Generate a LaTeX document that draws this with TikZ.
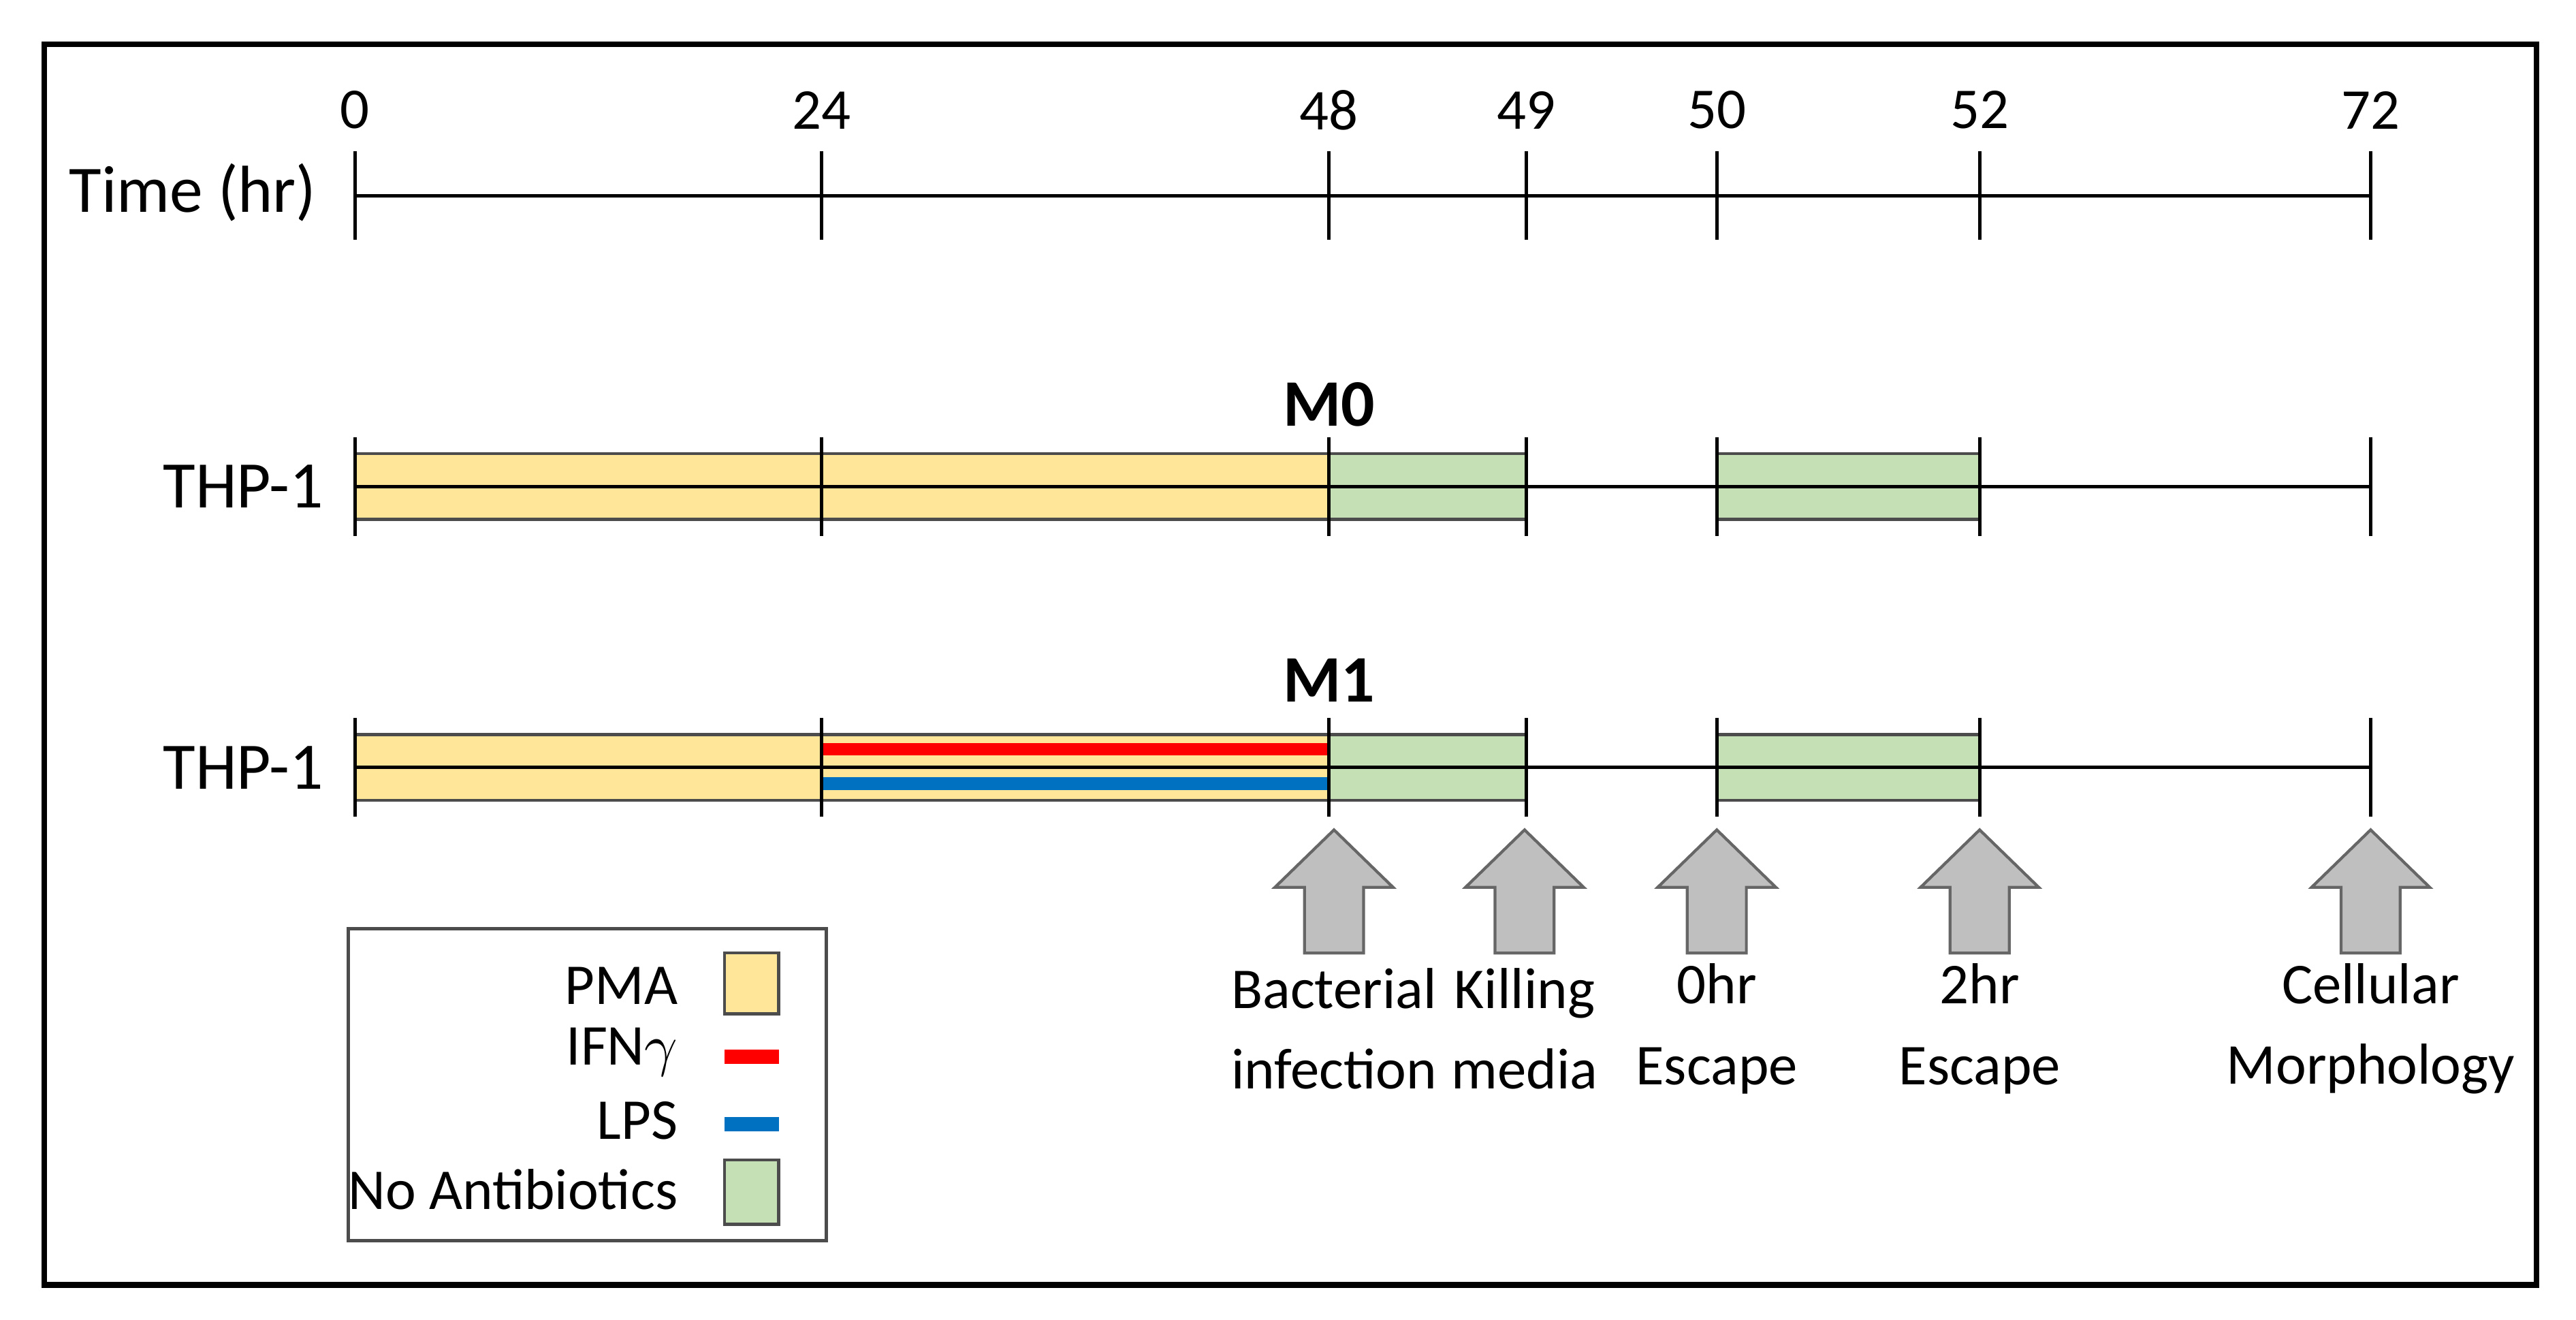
\documentclass[tikz,border=0pt]{standalone}
\usepackage{fontspec}
\setmainfont{Carlito}
\begin{document}
\begin{tikzpicture}[x=0.01cm,y=-0.01cm,
  lbl/.style={font=\fontsize{10}{12}\selectfont},
  big/.style={font=\fontsize{11.5}{13}\selectfont},
  tick/.style={line width=0.6pt},
  bar/.style={draw=black!70,line width=0.5pt},
  pma/.style={bar,fill=yellow!40!orange!35!white,fill=pmac},
  na/.style={bar,fill=nac},
  uparrow/.style={fill=gray!50,draw=black!60,line width=0.5pt}]
\definecolor{pmac}{HTML}{FFE699}
\definecolor{nac}{HTML}{C5E0B4}
\definecolor{ifn}{HTML}{FF0000}
\definecolor{lps}{HTML}{0070C0}
\useasboundingbox (0,0) rectangle (1568,803);
\draw[line width=1pt] (27,27) rectangle (1544,782);
% timeline
\coordinate (t0) at (216,119); \coordinate (t72) at (1443,119);
\draw[line width=0.6pt] (t0) -- (t72);
\node[big,anchor=east] (timelbl) at (205,117) {Time (hr)};
\foreach \x/\t in {216/0,500/24,809/48,929/49,1045/50,1205/52,1443/72}{
  \draw[tick] (\x,92) -- (\x,146);
  \node[lbl] (lab\t) at (\x,67) {\t};
}
% M0 row
\node[big] (thp0) at (148,296) {THP-1};
\node[big,font=\fontsize{11.5}{13}\selectfont\bfseries] (m0) at (809,246) {M0};
\draw[pma] (216,276) rectangle (809,316);
\draw[na] (809,276) rectangle (929,316);
\draw[na] (1045,276) rectangle (1205,316);
\draw[line width=0.6pt] (216,296) -- (1443,296);
\foreach \x in {216,500,809,929,1045,1205,1443}{\draw[tick] (\x,266) -- (\x,326);}
% M1 row
\node[big] (thp1) at (148,467) {THP-1};
\node[big,font=\fontsize{11.5}{13}\selectfont\bfseries] (m1) at (809,414) {M1};
\draw[pma] (216,447) rectangle (809,487);
\draw[na] (809,447) rectangle (929,487);
\draw[na] (1045,447) rectangle (1205,487);
\draw[ifn,line width=2.2pt] (500,456) -- (809,456);
\draw[lps,line width=2.2pt] (500,477) -- (809,477);
\draw[line width=0.6pt] (216,467) -- (1443,467);
\foreach \x in {216,500,809,929,1045,1205,1443}{\draw[tick] (\x,437) -- (\x,497);}
% arrows
\foreach \x/\a/\b in {812/Bacterial/infection,928/Killing/media,1045/0hr/Escape,1205/2hr/Escape,1443/Cellular/Morphology}{
  \draw[uparrow] (\x,505) -- (\x+36,540) -- (\x+18,540) -- (\x+18,580) -- (\x-18,580) -- (\x-18,540) -- (\x-36,540) -- cycle;
  \node[lbl,align=center] (lb\x) at (\x,626) {\a\\[2pt]\b};
}
% legend
\draw[line width=0.6pt,draw=black!70] (212,565) rectangle (503,755);
\node[lbl,anchor=east] (lpma) at (425,600) {PMA};
\draw[pma] (441,580) rectangle (474,617);
\node[lbl,anchor=east] (lifn) at (425,640) {IFN$\gamma$};
\draw[ifn,line width=2.5pt] (441,643) -- (474,643);
\node[lbl,anchor=east] (llps) at (425,682) {LPS};
\draw[lps,line width=2.5pt] (441,684) -- (474,684);
\node[lbl,anchor=east] (lna) at (425,724) {No Antibiotics};
\draw[na] (441,706) rectangle (474,745);
\end{tikzpicture}
\end{document}
